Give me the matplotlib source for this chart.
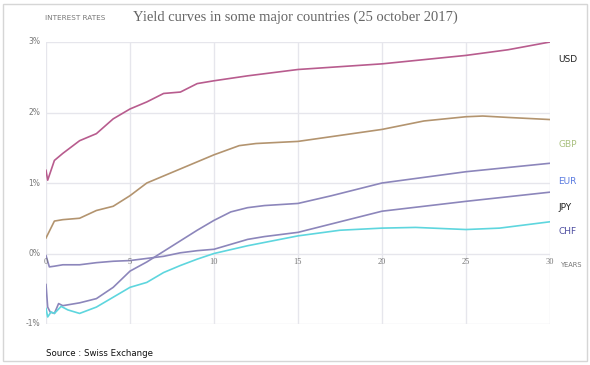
import matplotlib
matplotlib.use("Agg")
import matplotlib.pyplot as plt
from matplotlib.patches import Rectangle

# ---- data ----
usd_t = [0, 0.1, 0.5, 1, 2, 3, 4, 5, 6, 7, 8, 9, 10, 12, 15, 20, 25, 27.5, 30]
usd_v = [1.18, 1.04, 1.32, 1.42, 1.60, 1.70, 1.91, 2.05, 2.15, 2.27, 2.29, 2.41, 2.45, 2.52, 2.61, 2.69, 2.81, 2.89, 3.00]

gbp_t = [0, 0.5, 1, 2, 3, 4, 5, 6, 7, 8, 10, 11.5, 12.5, 15, 20, 22.5, 25, 26, 27.5, 30]
gbp_v = [0.22, 0.46, 0.48, 0.50, 0.61, 0.67, 0.82, 1.00, 1.10, 1.20, 1.40, 1.53, 1.56, 1.59, 1.76, 1.88, 1.94, 1.95, 1.93, 1.90]

eur_t = [0, 0.1, 0.25, 0.5, 0.75, 1, 2, 3, 4, 5, 6, 7, 8, 9, 10, 11, 12, 13, 15, 17, 20, 25, 30]
eur_v = [-0.44, -0.76, -0.83, -0.85, -0.71, -0.74, -0.70, -0.64, -0.48, -0.25, -0.12, 0.03, 0.18, 0.33, 0.47, 0.59, 0.65, 0.68, 0.71, 0.82, 1.00, 1.16, 1.28]

jpy_t = [0, 0.2, 0.5, 1, 2, 3, 4, 5, 6, 7, 8, 9, 10, 11, 12, 13, 15, 17, 20, 25, 30]
jpy_v = [-0.03, -0.19, -0.18, -0.16, -0.16, -0.13, -0.11, -0.10, -0.07, -0.04, 0.01, 0.04, 0.06, 0.13, 0.20, 0.24, 0.30, 0.42, 0.60, 0.74, 0.87]

chf_t = [0, 0.1, 0.3, 0.5, 0.9, 1.3, 2, 3, 4, 5, 6, 7, 8, 9, 10, 12, 15, 17.5, 20, 22, 25, 27, 30]
chf_v = [-0.78, -0.90, -0.83, -0.85, -0.75, -0.80, -0.85, -0.76, -0.62, -0.48, -0.41, -0.27, -0.17, -0.08, 0.00, 0.11, 0.25, 0.33, 0.36, 0.37, 0.34, 0.36, 0.45]

x_ticks = [0, 5, 10, 15, 20, 25, 30]
y_ticks = [-1, 0, 1, 2, 3]
y_labels = ["-1%", "0%", "1%", "2%", "3%"]

series = [
    ("USD", usd_t, usd_v, "#b85c8e", "#222222", 2.75),
    ("GBP", gbp_t, gbp_v, "#b3946f", "#a9c07f", 1.54),
    ("EUR", eur_t, eur_v, "#8c86bb", "#5a7be0", 1.02),
    ("JPY", jpy_t, jpy_v, "#8c86bb", "#222222", 0.65),
    ("CHF", chf_t, chf_v, "#5ed6de", "#4e4ea0", 0.31),
]

W, H = 590, 365
fig = plt.figure(figsize=(W / 100, H / 100), dpi=100)
fig.patch.set_facecolor("white")

# outer frame
fig.patches.append(Rectangle((3 / W, 4 / H), 584 / W, 357 / H, transform=fig.transFigure,
                             fill=False, edgecolor="#d6d6d6", linewidth=1.0))

ax = fig.add_axes([46 / W, (H - 324) / H, 504 / W, 282 / H])
ax.set_xlim(0, 30)
ax.set_ylim(-1, 3)
for s in ax.spines.values():
    s.set_visible(False)
ax.set_xticks([])
ax.set_yticks([])

for y in y_ticks:
    ax.axhline(y, color="#e6e6ec", lw=1.0, zorder=1)
for x in x_ticks:
    ax.axvline(x, color="#e6e6ec", lw=1.0, zorder=1)

for name, t, v, c, lc, ly in series:
    ax.plot(t, v, color=c, lw=1.2, zorder=3, solid_joinstyle="round")
    ax.text(30.5, ly, name, color=lc, fontsize=6.5, ha="left", va="center",
            family="DejaVu Sans", clip_on=False)

for x in x_ticks:
    ax.text(x, -0.06, str(x), ha="center", va="top", fontsize=6, color="#777777",
            family="Liberation Serif", clip_on=False)
for y, lab in zip(y_ticks, y_labels):
    ax.text(-0.35, y, lab, ha="right", va="center", fontsize=5.5, color="#777777",
            family="DejaVu Sans", clip_on=False)

ax.text(30.65, -0.16, "YEARS", ha="left", va="center", fontsize=4.8, color="#777777",
        family="DejaVu Sans", clip_on=False)

fig.text(45 / W, 1 - 18 / H, "INTEREST RATES", ha="left", va="center", fontsize=5.2,
         color="#777777", family="DejaVu Sans")
fig.text(295 / W, 1 - 17 / H, "Yield curves in some major countries (25 october 2017)",
         ha="center", va="center", fontsize=10.5, color="#666666", family="Liberation Serif")
fig.text(46 / W, 1 - 354 / H, "Source : Swiss Exchange", ha="left", va="center",
         fontsize=6.2, color="#111111", family="DejaVu Sans")

fig.savefig("out.png", dpi=100, facecolor="white")
